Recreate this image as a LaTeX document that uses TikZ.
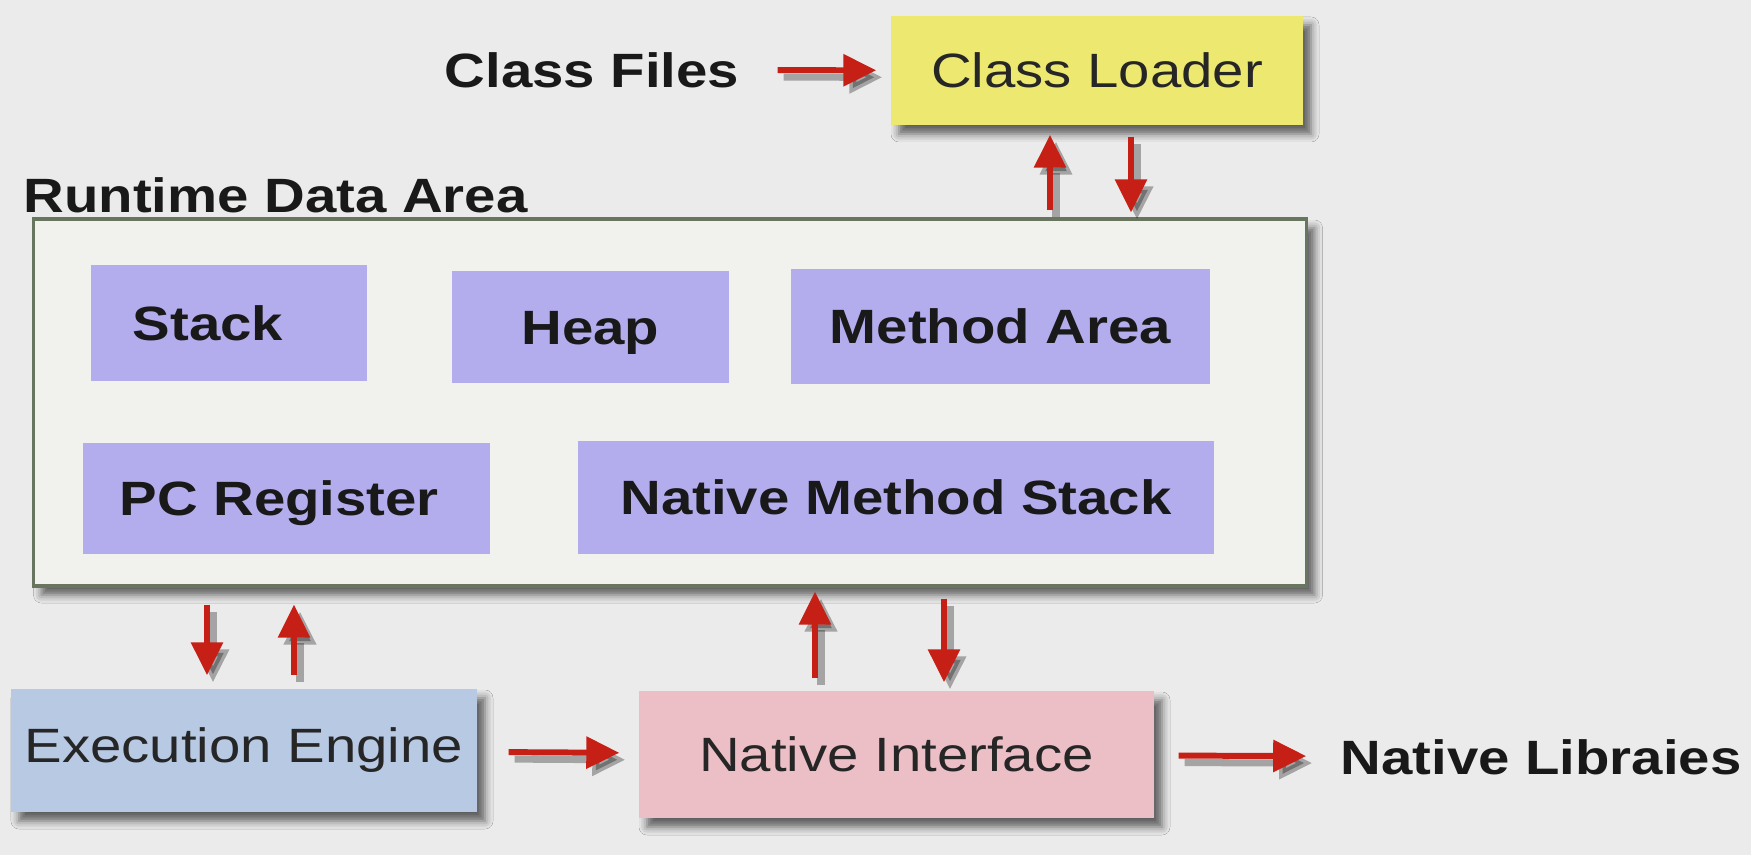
\documentclass[tikz,border=0pt]{standalone}
\usepackage{fontspec}
\setmainfont[FakeStretch=1.17]{Liberation Sans}
\usetikzlibrary{arrows.meta, positioning, shadows.blur}

\definecolor{bggray}{RGB}{235,235,235}
\definecolor{loaderyellow}{RGB}{237,233,112}
\definecolor{areafill}{RGB}{241,241,237}
\definecolor{areaborder}{RGB}{105,118,95}
\definecolor{memviolet}{RGB}{179,173,238}
\definecolor{engineblue}{RGB}{183,201,227}
\definecolor{nativepink}{RGB}{236,191,198}
\definecolor{flowred}{RGB}{198,32,22}

\begin{document}
\begin{tikzpicture}[
    >={Triangle[length=0.33cm, width=0.31cm]}, % Default arrow tip
    txt/.style={font=\fontsize{13.7}{16}\selectfont}, % Base text
    title/.style={txt, font=\fontsize{13.7}{16}\selectfont\bfseries, text=black!90}, % Bold free labels
    shadowed/.style={blur shadow={shadow xshift=0.08cm, shadow yshift=-0.09cm, shadow blur radius=0.08cm, shadow opacity=60}},
    block/.style={rectangle, inner sep=0pt, txt, text=black!85, shadowed}, % Outer blocks
    memory/.style={rectangle, inner sep=0pt, fill=memviolet, text height=0.35cm, text depth=0cm,
        txt, font=\fontsize{13.7}{16}\selectfont\bfseries, text=black!90}, % Memory parts
    flow/.style={->, draw=flowred, line width=1.7pt,
        preaction={draw=black, opacity=0.3, line width=2pt, transform canvas={shift={(0.06cm,-0.07cm)}}}} % Red arrows
]

    % Background and bounding box
    \fill[bggray] (0,0) rectangle (17.51,-8.55);
    \useasboundingbox (0,0) rectangle (17.51,-8.55);

    % Class loading
    \node[block, fill=loaderyellow, minimum width=4.12cm, minimum height=1.09cm] (loader) at (10.97,-0.705) {Class Loader};
    \node[title] (files) at (5.92,-0.70) {Class Files};

    % Runtime data area
    \node[block, fill=areafill, draw=areaborder, line width=0.9pt, minimum width=12.73cm, minimum height=3.67cm] (area) at (6.70,-4.025) {};
    \node[title, anchor=base west, inner sep=0pt] (arealabel) at ([xshift=-0.09cm, yshift=0.05cm]area.north west) {Runtime Data Area};

    \node[memory, minimum width=2.75cm, minimum height=1.16cm] (stack) at (2.29,-3.23) {Stack\kern0.42cm};
    \node[memory, minimum width=2.77cm, minimum height=1.12cm] (heap) at (5.905,-3.27) {Heap};
    \node[memory, minimum width=4.19cm, minimum height=1.15cm] (method) at (10.005,-3.265) {Method Area};
    \node[memory, minimum width=4.07cm, minimum height=1.11cm] (pcreg) at (2.863,-4.985) {PC Register\kern0.14cm};
    \node[memory, minimum width=6.36cm, minimum height=1.13cm] (nstack) at (8.96,-4.975) {Native Method Stack};

    % Engine and native side
    \node[block, fill=engineblue, minimum width=4.66cm, minimum height=1.23cm] (engine) at (2.44,-7.505) {Execution Engine};
    \node[block, fill=nativepink, minimum width=5.15cm, minimum height=1.27cm] (native) at (8.965,-7.545) {Native Interface};
    \node[title] (libs) at (15.41,-7.57) {Native Libraies};

    % Connectors
    \draw[flow, shorten <=0.26cm, shorten >=0.14cm] (files) -- (loader);
    \draw[flow, shorten <=0.07cm, shorten >=0.09cm] ([xshift=-0.47cm]loader.south |- area.north) -- ([xshift=-0.47cm]loader.south);
    \draw[flow, shorten <=0.11cm, shorten >=0.05cm] ([xshift=0.34cm]loader.south) -- ([xshift=0.34cm]loader.south |- area.north);

    \draw[flow, shorten <=0.17cm, shorten >=0.13cm] ([xshift=-0.37cm]engine.north |- area.south) -- ([xshift=-0.37cm]engine.north);
    \draw[flow, shorten <=0.13cm, shorten >=0.17cm] ([xshift=0.50cm]engine.north) -- ([xshift=0.50cm]engine.north |- area.south);

    \draw[flow, shorten <=0.12cm, shorten >=0.04cm] ([xshift=-0.815cm]native.north) -- ([xshift=-0.815cm]native.north |- area.south);
    \draw[flow, shorten <=0.11cm, shorten >=0.08cm] ([xshift=0.475cm]native.north |- area.south) -- ([xshift=0.475cm]native.north);

    \draw[flow, shorten <=0.31cm, shorten >=0.19cm] (engine) -- (native);
    \draw[flow, shorten <=0.24cm, shorten >=0.22cm] (native) -- (libs);

\end{tikzpicture}
\end{document}
